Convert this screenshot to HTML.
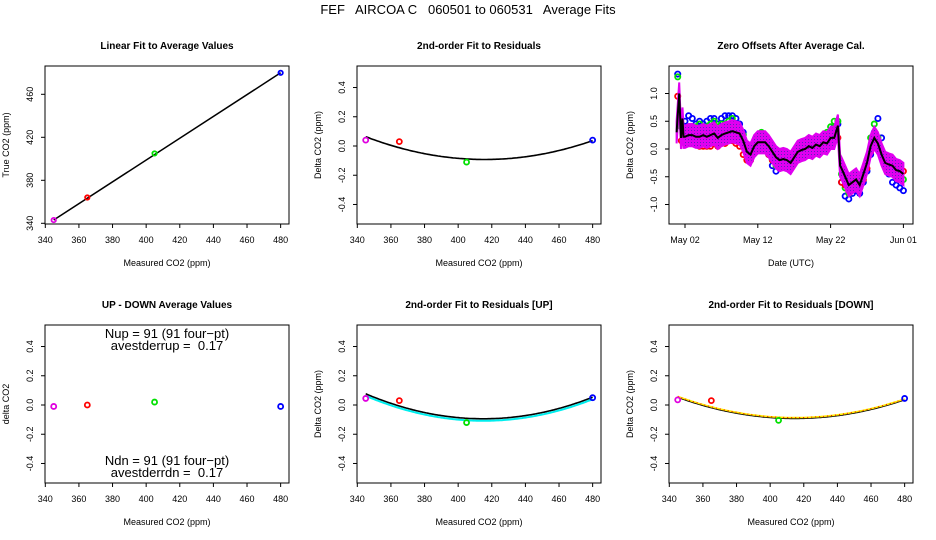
<!DOCTYPE html>
<html><head><meta charset="utf-8"><style>
body{margin:0;background:#fff;}
svg{display:block;font-family:"Liberation Sans",Arial,sans-serif;}
</style></head><body>
<svg id="c" width="936" height="540" viewBox="0 0 936 540">
<defs>
<pattern id="mp" width="3" height="3" patternUnits="userSpaceOnUse">
<rect width="3" height="3" fill="#e000f0"/><rect x="1" y="1" width="1" height="1" fill="#6020c0"/>
</pattern>
</defs>
<text x="468" y="14" font-size="13" text-anchor="middle" style="white-space:pre" xml:space="preserve">FEF   AIRCOA C   060501 to 060531   Average Fits</text>
</svg>
<script>
// ---- data ----
const calX = [345, 365, 405, 480];
const calColors = ['#e000e0', '#ff0000', '#00e000', '#0000ff'];
const trueVals = [343, 364, 405, 480];
const resid = [0.04, 0.03, -0.11, 0.04];
const upDown = [-0.01, 0.0, 0.02, -0.01];
const residUp = [0.045, 0.03, -0.12, 0.05];
const residDn = [0.035, 0.03, -0.105, 0.045];
const co2Ticks = [340, 360, 380, 400, 420, 440, 460, 480];
const trueTicks = [340, 380, 420, 460];
const deltaTicks = [-0.4, -0.2, 0.0, 0.2, 0.4];
const offTicks = [-1.0, -0.5, 0.0, 0.5, 1.0];
const dateTicks = [1, 11, 21, 31];
const dateLabels = ['May 02', 'May 12', 'May 22', 'Jun 01'];
const meanT = [-0.15,0.2,0.45,0.65,0.8,1,1.5,2,2.5,3,3.5,4,4.5,5,5.5,6,6.5,7,7.5,8,8.5,9,9.5,10,10.5,11,11.5,12,12.5,13,13.5,14,14.5,15,15.5,16,16.5,17,17.5,18,18.5,19,19.5,20,20.5,21,21.5,22,22.3,22.5,23,23.5,24,24.5,25,25.5,26,26.5,27,27.5,28,28.5,29,29.5,30,30.5,31];
const meanV = [0.3,1.0,0.2,0.55,0.22,0.22,0.25,0.25,0.22,0.22,0.25,0.22,0.25,0.28,0.2,0.25,0.28,0.3,0.32,0.3,0.28,0.15,-0.05,-0.1,0.05,0.12,0.12,0.12,0.05,-0.05,-0.15,-0.2,-0.18,-0.2,-0.25,-0.15,-0.05,-0.02,0.0,0.05,0.02,0.08,0.05,0.12,0.1,0.2,0.2,0.42,-0.3,-0.35,-0.5,-0.65,-0.6,-0.55,-0.65,-0.45,-0.25,0.05,0.2,0.1,-0.1,-0.25,-0.28,-0.3,-0.38,-0.4,-0.45];
const gridT = [0,0.5,1,1.5,2,2.5,3,3.5,4,4.5,5,5.5,6,6.5,7,7.5,8,8.5,9,9.5,10,10.5,11,11.5,12,12.5,13,13.5,14,14.5,15,15.5,16,16.5,17,17.5,18,18.5,19,19.5,20,20.5,21,21.5,22,22.5,23,23.5,24,24.5,25,25.5,26,26.5,27,27.5,28,28.5,29,29.5,30,30.5,31];
const blueV = [1.35,0.45,0.5,0.6,0.55,0.45,0.5,0.45,0.5,0.55,0.55,0.45,0.55,0.6,0.6,0.6,0.55,0.45,0.3,0.0,-0.2,0.05,0.2,0.25,0.1,-0.1,-0.3,-0.4,-0.35,-0.3,-0.35,-0.3,-0.2,-0.1,0.0,0.05,0.1,0.05,0.1,0.05,0.2,0.15,0.25,0.4,0.45,-0.6,-0.85,-0.9,-0.8,-0.75,-0.8,-0.6,-0.4,-0.1,0.3,0.55,0.2,-0.2,-0.45,-0.6,-0.65,-0.7,-0.75];
const greenV = [1.3,0.4,0.35,0.4,0.35,0.4,0.45,0.4,0.4,0.45,0.5,0.4,0.45,0.45,0.5,0.55,0.45,0.35,0.25,-0.05,-0.15,0.1,0.25,0.3,0.15,0.0,-0.2,-0.3,-0.3,-0.25,-0.3,-0.3,-0.15,-0.05,0.05,0.1,0.1,0.1,0.15,0.2,0.25,0.3,0.4,0.5,0.5,-0.45,-0.7,-0.8,-0.7,-0.6,-0.7,-0.5,-0.2,0.2,0.45,0.2,-0.1,-0.3,-0.35,-0.4,-0.45,-0.5,-0.55];
const redV = [0.95,0.15,0.1,0.1,0.15,0.1,0.05,0.05,0.05,0.05,0.1,0.05,0.1,0.1,0.15,0.15,0.1,0.05,-0.1,-0.2,-0.2,-0.05,0.05,0.05,0.0,-0.1,-0.2,-0.25,-0.3,-0.3,-0.3,-0.25,-0.2,-0.15,-0.1,-0.1,-0.05,-0.1,-0.05,0.0,0.05,0.1,0.1,0.15,0.2,-0.6,-0.65,-0.75,-0.7,-0.65,-0.7,-0.55,-0.35,-0.05,0.2,0.15,-0.05,-0.3,-0.35,-0.4,-0.45,-0.45,-0.4];
const bandHalf = 0.2;

// ---- drawing ----
const svg = document.getElementById('c');
const NS = 'http://www.w3.org/2000/svg';
function mk(tag, attrs, parent) {
  const e = document.createElementNS(NS, tag);
  for (const k in attrs) e.setAttribute(k, attrs[k]);
  (parent || svg).appendChild(e);
  return e;
}
function fmt(v, d) { return v.toFixed(d); }

function panel(cfg) {
  const g = mk('g', {});
  
  
  const L = cfg.left, T = cfg.top, W = 244, H = 158;
  const xs = v => cfg.x0px + (v - cfg.x0) * cfg.xk;
  const ys = v => cfg.y0px - (v - cfg.y0) * cfg.yk;
  const box = mk('rect', {x: L, y: T, width: W, height: H, fill: 'none', stroke: '#000', 'stroke-width': 1}, g);
  
  
  const t = mk('text', {x: L + W / 2, y: T - 17, 'font-size': 10, 'font-weight': 'bold', 'text-anchor': 'middle'}, g);
  t.textContent = cfg.title;
  
  
  const xl = mk('text', {x: L + W / 2, y: T + H + 42, 'font-size': 9, 'text-anchor': 'middle'}, g);
  xl.textContent = cfg.xlab;
  
  
  const yl = mk('text', {x: 0, y: 0, 'font-size': 9, 'text-anchor': 'middle', transform: `translate(${L - 36},${T + H / 2}) rotate(-90)`}, g);
  yl.textContent = cfg.ylab;
  
  
  cfg.xt.forEach((v, i) => {
    const x = xs(v);
    mk('line', {x1: x, x2: x, y1: T + H, y2: T + H + 4, stroke: '#000'}, g);
    const tl = mk('text', {x: x, y: T + H + 19, 'font-size': 9, 'text-anchor': 'middle'}, g);
    tl.textContent = cfg.xtl ? cfg.xtl[i] : String(v);
    
    
  });
  cfg.yt.forEach(v => {
    const y = ys(v);
    mk('line', {x1: L - 4, x2: L, y1: y, y2: y, stroke: '#000'}, g);
    const tl = mk('text', {x: 0, y: 0, 'font-size': 9, 'text-anchor': 'middle', transform: `translate(${L - 12},${y}) rotate(-90)`}, g);
    tl.textContent = cfg.ytd === undefined ? String(v) : fmt(v, cfg.ytd);
    
    
  });
  return {g, xs, ys};
}

function points(p, xv, yv, r) {
  xv.forEach((x, i) => {
    const c = mk('circle', {cx: p.xs(x), cy: p.ys(yv[i]), r: r || 2.5, fill: 'none', stroke: calColors[i], 'stroke-width': 1.8}, p.g);
    
    
  });
}

function quadFit(xv, yv) {
  let S = [[0,0,0],[0,0,0],[0,0,0]], R = [0,0,0];
  xv.forEach((x, i) => {
    const u = x - 400, b = [1, u, u * u];
    for (let r = 0; r < 3; r++) { R[r] += b[r] * yv[i]; for (let c = 0; c < 3; c++) S[r][c] += b[r] * b[c]; }
  });
  for (let i = 0; i < 3; i++) {
    for (let j = i + 1; j < 3; j++) {
      const f = S[j][i] / S[i][i];
      for (let k = i; k < 3; k++) S[j][k] -= f * S[i][k];
      R[j] -= f * R[i];
    }
  }
  const co = [0,0,0];
  for (let i = 2; i >= 0; i--) {
    let s = R[i];
    for (let k = i + 1; k < 3; k++) s -= S[i][k] * co[k];
    co[i] = s / S[i][i];
  }
  return x => co[0] + co[1] * (x - 400) + co[2] * (x - 400) * (x - 400);
}

function curve(p, f, color, w, dash, dy) {
  let d = '';
  for (let x = calX[0]; x <= calX[calX.length - 1]; x += 1) d += (d ? 'L' : 'M') + p.xs(x).toFixed(1) + ',' + (p.ys(f(x)) + (dy || 0)).toFixed(1);
  const pa = mk('path', {d: d, fill: 'none', stroke: color, 'stroke-width': w}, p.g);
  if (dash) pa.setAttribute('stroke-dasharray', dash);
  
  
}

function co2Panel(name, title, left, top, ylab) {
  return panel({name, title, left, top, xlab: 'Measured CO2 (ppm)', ylab,
    x0: 340, x0px: left + 0.3, xk: 1.681, y0: 0, y0px: top + 80, yk: 146.2,
    xt: co2Ticks, yt: deltaTicks, ytd: 1});
}

// Panel 1
const p1 = panel({name: 'linear-fit-panel', title: 'Linear Fit to Average Values', left: 45, top: 66,
  xlab: 'Measured CO2 (ppm)', ylab: 'True CO2 (ppm)',
  x0: 340, x0px: 45.3, xk: 1.681, y0: 340, y0px: 223.3, yk: 1.075, xt: co2Ticks, yt: trueTicks});
{
  const lf = quadFit(calX, trueVals);
  const ln = mk('line', {x1: p1.xs(calX[0]), y1: p1.ys(lf(calX[0])), x2: p1.xs(calX[3]), y2: p1.ys(lf(calX[3])), stroke: '#000', 'stroke-width': 1.5}, p1.g);
  
  
  points(p1, calX, trueVals, 2.2);
}

// Panel 2
const p2 = co2Panel('residual-fit-panel', '2nd-order Fit to Residuals', 357, 66, 'Delta CO2 (ppm)');
curve(p2, quadFit(calX, resid), '#000', 1.6);
points(p2, calX, resid);

// Panel 3
const p3 = panel({name: 'zero-offsets-panel', title: 'Zero Offsets After Average Cal.', left: 669, top: 66,
  xlab: 'Date (UTC)', ylab: 'Delta CO2 (ppm)',
  x0: 1, x0px: 685, xk: 7.28, y0: 0, y0px: 149, yk: 55.5, xt: dateTicks, xtl: dateLabels, yt: offTicks, ytd: 1});
{
  const ser = [[blueV, '#0000ff', 'blue-series'], [greenV, '#00e000', 'green-series'], [redV, '#ff0000', 'red-series']];
  ser.forEach(s => {
    s[0].forEach((v, i) => {
      if (i >= gridT.length) return;
      const c = mk('circle', {cx: p3.xs(gridT[i]), cy: p3.ys(v), r: 2.6, fill: 'none', stroke: s[1], 'stroke-width': 1.8}, p3.g);
      
      
    });
  });
  let up = '', dn = '';
  meanT.forEach((t, i) => {
    up += (i ? 'L' : 'M') + p3.xs(t).toFixed(1) + ',' + p3.ys(meanV[i] + bandHalf).toFixed(1);
  });
  for (let i = meanT.length - 1; i >= 0; i--) dn += 'L' + p3.xs(meanT[i]).toFixed(1) + ',' + p3.ys(meanV[i] - bandHalf).toFixed(1);
  const band = mk('path', {d: up + dn + 'Z', fill: 'url(#mp)', stroke: '#e000f0', 'stroke-width': 2}, p3.g);
  
  
  let d = '';
  meanT.forEach((t, i) => { d += (i ? 'L' : 'M') + p3.xs(t).toFixed(1) + ',' + p3.ys(meanV[i]).toFixed(1); });
  const ml = mk('path', {d: d, fill: 'none', stroke: '#000', 'stroke-width': 2}, p3.g);
  
  
}

// Panel 4
const p4 = co2Panel('up-down-panel', 'UP - DOWN Average Values', 45, 325, 'delta CO2');
points(p4, calX, upDown);
[['Nup = 91 (91 four\u2212pt)', 338], ['avestderrup =  0.17', 350], ['Ndn = 91 (91 four\u2212pt)', 465], ['avestderrdn =  0.17', 477]].forEach(a => {
  const t = mk('text', {x: 167, y: a[1], 'font-size': 13, 'text-anchor': 'middle', style: 'white-space:pre'}, p4.g);
  t.textContent = a[0];
  
  
});

// Panel 5
const p5 = co2Panel('residual-up-panel', '2nd-order Fit to Residuals [UP]', 357, 325, 'Delta CO2 (ppm)');
curve(p5, quadFit(calX, residUp), '#000', 1.6, null, -1);
curve(p5, quadFit(calX, residUp), '#00eeee', 2, null, 1);
points(p5, calX, residUp);

// Panel 6
const p6 = co2Panel('residual-down-panel', '2nd-order Fit to Residuals [DOWN]', 669, 325, 'Delta CO2 (ppm)');
curve(p6, quadFit(calX, residDn), '#000', 1.6, null, 0.8);
curve(p6, quadFit(calX, residDn), '#ffee00', 1.6);
curve(p6, quadFit(calX, residDn), '#ff0000', 1, '1,3');
points(p6, calX, residDn);
</script>
</body></html>
